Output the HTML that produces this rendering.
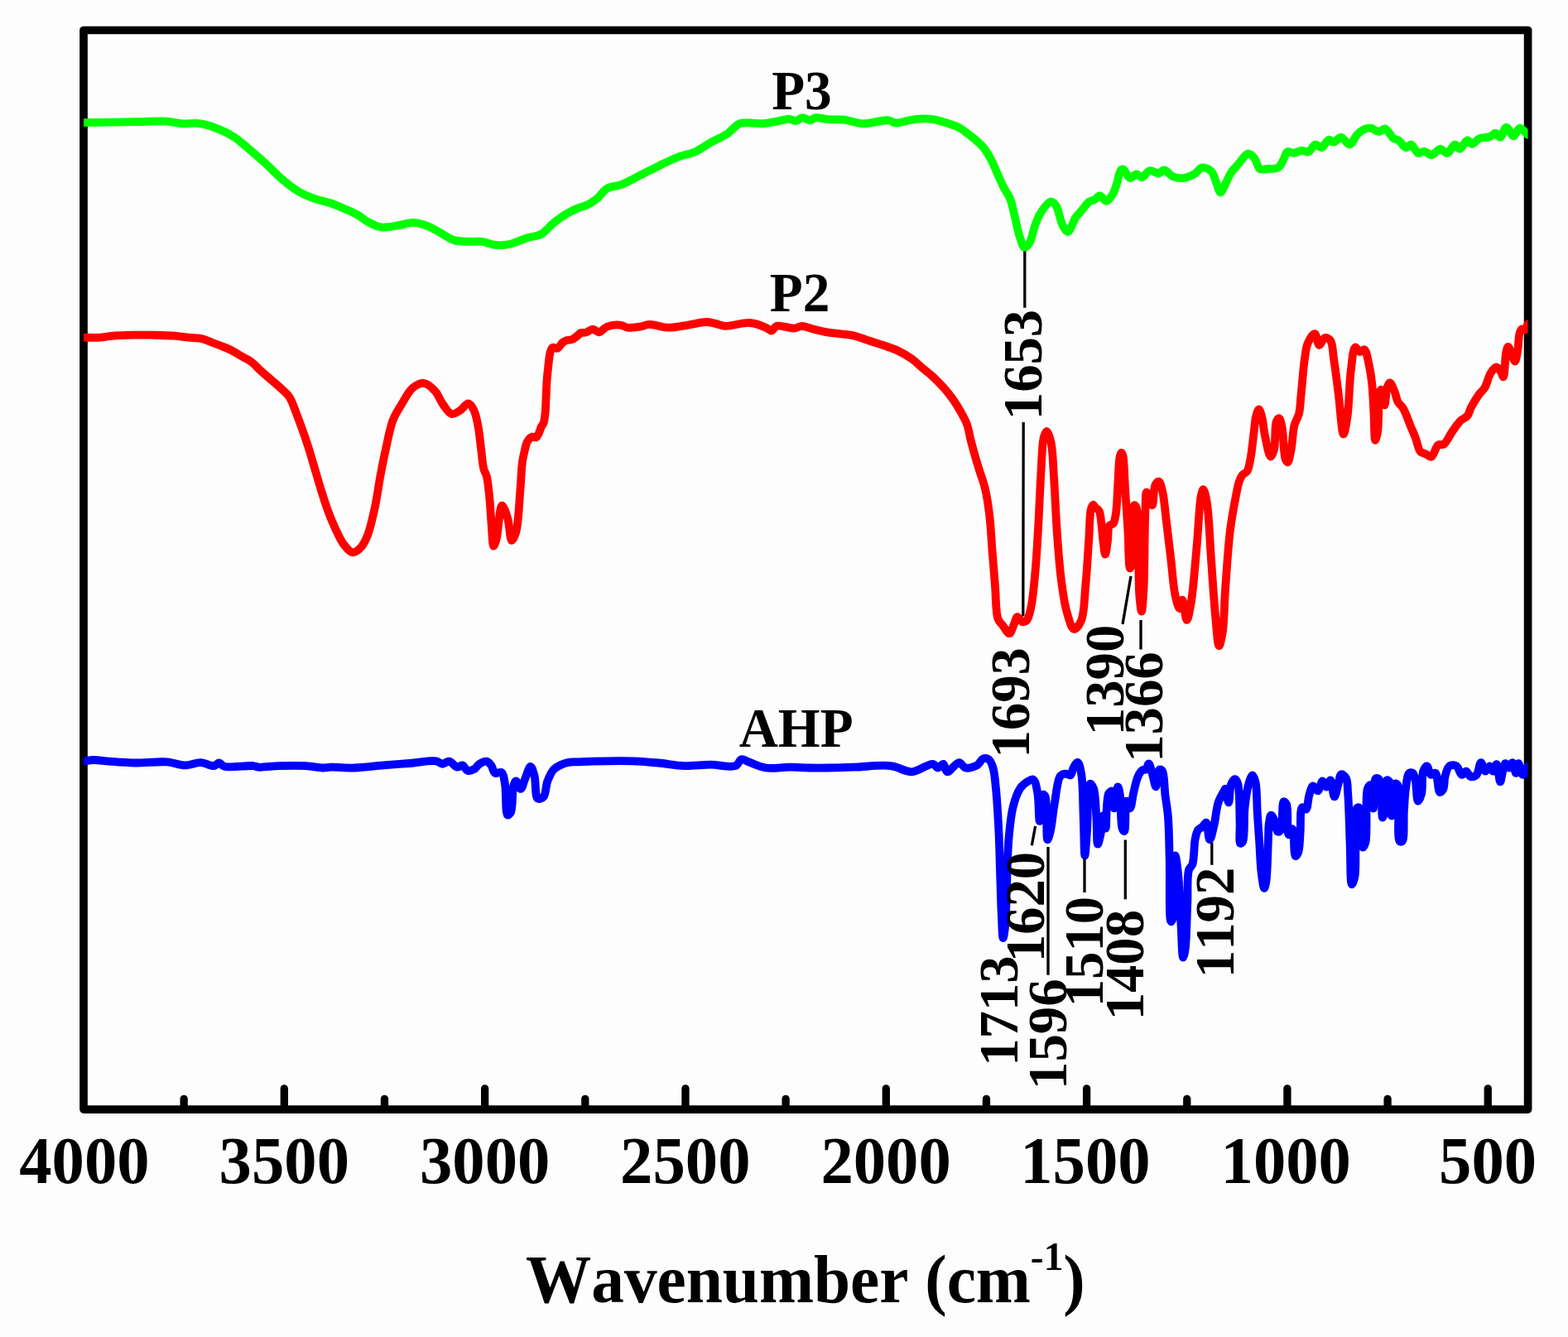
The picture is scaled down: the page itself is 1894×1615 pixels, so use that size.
<!DOCTYPE html>
<html><head><meta charset="utf-8"><title>FTIR spectra</title>
<style>html,body{margin:0;padding:0;background:#fdfdfd;width:1894px;height:1615px;overflow:hidden}</style>
</head><body>
<svg width="1894" height="1615" viewBox="0 0 1894 1615" style="display:block">
<rect x="0" y="0" width="1894" height="1615" fill="#fdfdfd"/>
<rect x="101" y="36.5" width="1744.6" height="1303.6" fill="none" stroke="#000" stroke-width="9.7" stroke-linejoin="round"/>
<path d="M343.32,1340 V1314.8 M585.64,1340 V1314.8 M827.96,1340 V1314.8 M1070.28,1340 V1314.8 M1312.60,1340 V1314.8 M1554.92,1340 V1314.8 M1797.24,1340 V1314.8 M222.16,1340 V1327.3 M464.48,1340 V1327.3 M706.80,1340 V1327.3 M949.12,1340 V1327.3 M1191.44,1340 V1327.3 M1433.76,1340 V1327.3 M1676.08,1340 V1327.3" stroke="#000" stroke-width="9.3" stroke-linecap="round" fill="none"/>
<text transform="translate(23.23,1429.21) scale(0.972,1)" font-size="81" style="font-family:'Liberation Serif','Times New Roman',serif;font-weight:bold;font-kerning:none">4000</text>
<text transform="translate(264.61,1429.21) scale(0.972,1)" font-size="81" style="font-family:'Liberation Serif','Times New Roman',serif;font-weight:bold;font-kerning:none">3500</text>
<text transform="translate(506.93,1429.21) scale(0.972,1)" font-size="81" style="font-family:'Liberation Serif','Times New Roman',serif;font-weight:bold;font-kerning:none">3000</text>
<text transform="translate(749.07,1429.21) scale(0.972,1)" font-size="81" style="font-family:'Liberation Serif','Times New Roman',serif;font-weight:bold;font-kerning:none">2500</text>
<text transform="translate(991.39,1429.21) scale(0.972,1)" font-size="81" style="font-family:'Liberation Serif','Times New Roman',serif;font-weight:bold;font-kerning:none">2000</text>
<text transform="translate(1232.21,1429.21) scale(0.972,1)" font-size="81" style="font-family:'Liberation Serif','Times New Roman',serif;font-weight:bold;font-kerning:none">1500</text>
<text transform="translate(1474.53,1429.21) scale(0.972,1)" font-size="81" style="font-family:'Liberation Serif','Times New Roman',serif;font-weight:bold;font-kerning:none">1000</text>
<text transform="translate(1738.11,1429.21) scale(0.972,1)" font-size="81" style="font-family:'Liberation Serif','Times New Roman',serif;font-weight:bold;font-kerning:none">500</text>
<defs><clipPath id="pc"><rect x="101" y="0" width="1744.6" height="1615"/></clipPath></defs>
<g clip-path="url(#pc)">
<path d="M98.0,148.2 C98.0,148.2 99.5,148.2 101.0,148.2 C105.9,148.2 121.4,147.9 131.7,147.7 C142.2,147.5 152.4,147.4 163.4,147.2 C175.5,147.0 190.9,145.9 201.4,146.6 C208.8,147.1 213.8,148.8 220.4,149.3 C227.5,149.8 235.4,148.2 242.6,149.3 C249.7,150.4 256.6,153.0 263.2,155.6 C269.8,158.2 276.0,161.1 282.2,165.1 C289.2,169.6 296.1,176.2 302.8,181.8 C309.3,187.3 315.5,192.7 321.8,198.4 C328.2,204.3 334.3,211.1 340.8,216.6 C347.0,221.9 353.2,227.0 359.8,230.9 C365.9,234.6 372.2,237.2 378.8,239.6 C385.6,242.1 393.9,243.4 400.0,245.5 C404.8,247.2 408.1,248.7 412.7,250.7 C418.4,253.2 425.9,256.2 431.7,259.4 C436.9,262.3 441.0,266.4 445.9,268.9 C450.5,271.3 455.7,273.6 460.2,274.4 C464.1,275.0 467.4,274.4 471.3,274.0 C475.8,273.5 480.8,272.1 485.5,271.3 C490.3,270.4 495.0,268.8 499.8,268.9 C504.6,269.0 509.3,270.4 514.1,272.1 C519.3,274.0 524.4,277.1 529.9,280.0 C536.0,283.2 542.5,288.4 548.9,290.3 C554.7,292.0 560.6,291.6 566.3,291.9 C571.7,292.1 576.9,291.3 582.2,291.9 C587.5,292.5 592.6,295.3 598.0,295.8 C603.6,296.4 609.3,296.2 615.4,295.0 C622.4,293.6 630.8,289.1 637.6,287.1 C643.3,285.4 648.4,285.8 653.4,283.2 C659.1,280.2 663.9,273.2 669.3,268.9 C674.5,264.8 679.8,260.9 685.1,257.8 C690.0,254.9 695.8,252.3 700.0,250.7 C703.0,249.5 705.0,249.6 707.9,248.3 C711.7,246.6 716.5,243.6 720.6,240.4 C725.0,236.9 728.3,230.6 733.3,227.7 C738.3,224.8 744.7,225.3 750.7,223.0 C757.8,220.3 765.5,215.6 772.9,211.9 C780.3,208.2 787.5,204.4 795.0,200.8 C802.8,197.0 811.1,192.7 818.8,189.7 C825.8,187.0 832.8,186.3 839.4,183.4 C846.0,180.5 851.9,175.9 858.4,172.3 C865.1,168.5 872.9,165.3 879.0,161.2 C884.4,157.5 888.4,151.3 893.3,149.3 C897.4,147.7 901.5,148.5 905.9,148.5 C910.9,148.5 916.3,149.6 921.8,149.3 C927.9,148.9 935.1,147.1 940.8,146.1 C945.4,145.3 949.7,143.6 953.4,143.8 C956.4,143.9 958.8,146.3 961.4,146.1 C964.1,145.9 966.5,142.4 969.3,142.2 C972.3,142.0 976.0,145.5 978.8,145.3 C981.2,145.1 982.5,142.6 985.1,142.2 C988.9,141.6 994.7,143.8 1000.0,144.2 C1005.9,144.7 1012.3,143.9 1019.0,144.6 C1026.5,145.4 1034.4,149.0 1042.8,149.3 C1052.2,149.6 1065.7,144.6 1072.9,145.3 C1077.0,145.7 1079.0,148.3 1082.4,148.5 C1086.3,148.8 1090.8,146.9 1095.0,146.1 C1099.2,145.3 1103.1,144.2 1107.7,143.8 C1113.0,143.3 1119.8,143.2 1125.1,143.8 C1129.7,144.4 1133.1,145.5 1137.8,146.9 C1143.9,148.7 1152.4,151.0 1158.4,154.1 C1163.8,156.9 1168.0,160.7 1172.7,164.4 C1177.5,168.3 1182.9,172.4 1186.9,177.0 C1190.7,181.4 1193.6,186.2 1196.4,191.3 C1199.4,196.7 1201.7,202.9 1204.3,208.7 C1207.0,214.5 1209.5,220.6 1212.3,226.1 C1214.9,231.2 1218.1,235.3 1220.2,240.4 C1222.4,245.8 1223.3,251.4 1224.9,257.8 C1226.9,265.8 1228.8,277.2 1231.3,284.7 C1233.2,290.3 1235.1,298.5 1237.6,299.0 C1239.5,299.4 1242.1,295.7 1243.9,292.7 C1246.7,288.0 1248.0,278.3 1250.3,272.1 C1252.3,266.8 1253.7,262.3 1256.6,257.8 C1259.8,252.8 1265.7,244.0 1269.3,243.6 C1271.6,243.4 1273.7,245.7 1275.6,248.3 C1278.9,252.9 1280.4,266.5 1283.5,272.1 C1285.5,275.7 1287.7,280.2 1289.9,280.0 C1293.0,279.7 1296.2,267.2 1299.4,262.6 C1301.7,259.3 1303.8,257.5 1306.3,254.6 C1309.2,251.2 1312.7,245.8 1315.8,243.6 C1317.9,242.1 1320.2,242.3 1322.2,241.2 C1324.4,240.0 1326.3,236.4 1328.5,236.4 C1331.0,236.4 1333.8,243.0 1336.4,242.8 C1339.2,242.6 1342.3,237.4 1344.4,234.0 C1346.6,230.4 1347.6,225.9 1349.1,221.4 C1350.8,216.4 1351.8,207.5 1353.9,205.5 C1354.8,204.6 1355.9,204.3 1357.0,204.7 C1359.3,205.5 1362.0,214.4 1364.9,215.0 C1367.4,215.5 1370.4,210.3 1372.9,210.3 C1375.1,210.3 1376.9,214.5 1379.2,214.3 C1382.1,214.1 1385.2,207.0 1388.7,206.3 C1392.1,205.6 1396.7,209.9 1399.8,209.5 C1402.3,209.1 1403.7,205.4 1406.1,205.5 C1409.3,205.6 1413.2,211.9 1417.2,213.5 C1421.1,215.0 1425.7,215.5 1429.9,215.0 C1434.2,214.5 1438.8,212.5 1442.6,210.3 C1446.2,208.2 1448.6,202.9 1452.1,202.4 C1455.5,201.9 1460.4,204.3 1463.2,207.1 C1466.4,210.3 1467.6,216.9 1469.5,221.4 C1471.2,225.3 1472.4,232.4 1474.2,232.5 C1476.1,232.6 1478.5,225.3 1480.6,221.4 C1482.8,217.3 1484.3,212.6 1486.9,208.7 C1489.5,204.7 1493.1,201.3 1496.4,197.6 C1499.9,193.7 1504.0,186.1 1507.5,185.7 C1510.2,185.4 1513.2,188.7 1515.4,191.3 C1518.1,194.5 1518.7,202.1 1521.8,204.0 C1524.3,205.6 1527.9,204.2 1531.3,204.0 C1535.2,203.8 1540.7,204.4 1543.9,202.4 C1546.9,200.5 1548.4,196.1 1550.3,192.9 C1552.1,189.8 1552.6,184.6 1555.0,183.4 C1557.1,182.4 1560.2,185.1 1563.0,184.9 C1566.1,184.7 1569.5,182.0 1572.5,181.8 C1575.2,181.6 1577.9,184.2 1580.4,183.4 C1583.5,182.5 1586.0,175.2 1588.9,174.7 C1591.3,174.3 1593.9,178.8 1596.3,178.4 C1599.3,177.8 1602.3,169.3 1605.1,168.8 C1607.1,168.4 1608.9,171.8 1611.0,171.7 C1613.7,171.5 1616.9,165.6 1619.9,165.8 C1623.3,166.0 1627.1,175.1 1630.3,174.7 C1633.6,174.3 1636.3,165.9 1639.1,162.9 C1641.1,160.7 1642.6,159.0 1645.0,157.7 C1647.8,156.1 1652.0,154.5 1655.4,154.7 C1658.9,154.9 1662.6,159.3 1665.7,159.2 C1668.4,159.1 1670.6,155.0 1673.1,155.5 C1676.5,156.2 1680.3,165.1 1683.5,167.3 C1685.6,168.7 1687.4,168.2 1689.4,169.5 C1692.3,171.3 1695.5,178.1 1698.3,178.4 C1700.4,178.6 1702.2,174.4 1704.2,174.7 C1707.0,175.1 1710.0,184.1 1713.1,185.0 C1715.4,185.7 1717.9,182.6 1720.4,182.8 C1723.3,183.1 1726.3,187.5 1729.3,187.3 C1732.7,187.0 1736.3,180.1 1739.7,179.9 C1742.7,179.8 1745.7,185.5 1748.5,185.0 C1751.7,184.5 1754.6,174.9 1757.4,174.7 C1759.5,174.6 1761.2,180.0 1763.3,179.9 C1766.1,179.7 1769.4,169.8 1772.2,169.5 C1774.3,169.3 1775.9,174.0 1778.1,174.0 C1780.8,174.0 1783.5,168.8 1787.0,167.3 C1790.8,165.7 1796.9,166.6 1800.3,165.1 C1802.8,164.0 1804.3,160.6 1806.2,160.7 C1808.2,160.8 1810.2,166.1 1812.1,165.8 C1814.7,165.4 1816.8,154.2 1819.5,154.0 C1822.2,153.8 1825.6,164.5 1828.4,164.4 C1831.0,164.3 1833.0,155.0 1835.8,154.7 C1838.7,154.4 1843.1,162.0 1845.5,162.9 C1846.7,163.3 1848.5,162.9 1848.5,162.9" fill="none" stroke="#00ff00" stroke-width="9.8" stroke-linejoin="round" stroke-linecap="butt"/>
<path d="M98.0,407.7 C98.0,407.7 99.6,407.7 101.0,407.7 C104.7,407.7 114.9,408.1 120.9,407.7 C126.0,407.4 129.5,406.4 134.8,405.9 C142.0,405.3 152.1,404.9 160.4,404.7 C168.3,404.5 175.6,404.6 183.6,404.7 C192.2,404.9 202.3,405.1 210.3,405.7 C216.8,406.2 222.0,407.1 227.8,407.7 C233.6,408.3 240.1,408.2 245.2,409.4 C249.5,410.5 253.1,412.6 256.8,414.0 C260.1,415.3 262.7,416.2 266.1,417.5 C270.3,419.2 275.6,421.1 280.0,423.3 C284.1,425.4 288.1,428.3 291.7,430.3 C294.7,432.0 297.4,433.1 300.0,434.7 C302.5,436.3 304.8,438.1 306.9,439.9 C308.8,441.6 310.1,443.2 312.1,445.1 C314.8,447.7 318.4,450.9 321.7,453.8 C325.3,456.9 329.4,460.3 332.9,463.3 C336.0,466.0 339.0,468.6 341.6,471.1 C343.8,473.2 345.9,475.0 347.7,477.2 C349.4,479.3 350.7,481.6 352.0,484.1 C353.4,486.8 354.2,489.6 355.5,492.8 C357.1,496.9 358.9,501.7 360.7,506.7 C362.9,512.5 365.5,519.7 367.6,525.7 C369.5,531.1 371.1,536.0 372.8,541.3 C374.6,546.9 376.0,551.8 378.0,558.6 C380.9,568.2 385.0,583.0 388.4,593.7 C391.3,602.9 393.8,610.9 396.9,619.1 C400.0,627.2 403.6,635.8 407.0,642.7 C409.8,648.4 412.2,653.7 415.5,657.9 C418.5,661.7 422.1,666.8 425.6,667.2 C428.9,667.6 432.9,664.3 435.8,661.3 C439.3,657.7 441.7,652.3 444.2,646.1 C447.6,637.5 450.1,625.3 452.6,614.0 C455.3,601.7 457.1,587.7 459.4,575.2 C461.6,563.5 463.7,552.6 466.2,541.4 C468.7,530.1 470.9,517.0 474.6,507.6 C477.4,500.3 480.9,495.2 484.7,489.0 C488.8,482.3 493.1,473.1 498.3,468.7 C502.4,465.3 507.4,462.4 511.8,462.8 C516.4,463.2 521.5,468.0 525.3,472.1 C529.5,476.6 531.8,484.1 535.4,489.0 C538.6,493.2 541.9,499.2 545.6,500.0 C548.8,500.7 552.5,497.8 555.7,495.8 C559.2,493.6 562.9,487.0 565.8,487.3 C568.4,487.6 570.8,492.1 572.6,495.8 C575.1,500.9 576.3,508.8 577.7,516.0 C579.2,523.9 579.9,532.9 581.0,541.4 C582.1,549.8 582.8,560.6 584.4,566.7 C585.4,570.4 586.8,571.5 587.8,575.2 C589.4,581.3 590.3,591.4 591.2,600.5 C592.3,610.9 592.8,623.9 593.7,634.3 C594.5,643.3 594.8,659.4 596.3,659.6 C597.2,659.7 598.5,655.1 599.6,651.2 C601.9,642.8 603.4,611.0 606.4,610.6 C608.3,610.4 611.3,619.9 613.1,625.8 C615.5,633.4 615.9,652.6 618.2,652.9 C619.7,653.1 621.9,647.6 623.3,642.7 C626.3,632.4 627.1,607.3 628.4,592.1 C629.5,579.7 629.7,567.3 630.9,558.4 C631.7,552.4 632.8,548.0 633.9,543.6 C634.8,539.9 635.2,536.4 636.8,533.7 C638.3,531.2 640.7,528.4 642.8,527.7 C644.4,527.1 646.4,528.8 647.7,528.2 C649.1,527.6 649.8,525.5 650.7,523.8 C651.8,521.6 652.6,518.1 653.7,515.8 C654.6,513.9 655.8,513.0 656.6,510.9 C657.7,507.9 658.1,503.5 658.6,499.0 C659.2,493.3 659.3,485.8 659.6,479.2 C659.9,472.6 660.1,466.0 660.6,459.4 C661.1,452.8 661.9,445.6 662.6,439.6 C663.2,434.6 663.5,429.3 664.6,425.7 C665.4,423.2 666.0,420.6 667.5,419.8 C669.0,419.0 671.7,421.5 673.5,420.8 C675.7,420.0 677.3,415.6 679.4,413.9 C681.2,412.5 683.3,411.6 685.3,410.9 C687.2,410.3 689.3,410.8 691.3,409.9 C693.9,408.8 697.6,405.4 699.2,404.0 C700.0,403.3 700.0,402.7 700.8,402.3 C702.3,401.5 705.9,402.1 708.4,401.4 C711.0,400.6 713.5,397.6 716.0,397.6 C718.5,397.6 721.0,401.6 723.6,401.4 C726.7,401.2 729.2,396.2 733.1,394.7 C737.8,392.9 745.7,392.2 750.2,392.8 C753.3,393.2 754.8,395.2 757.8,395.7 C762.0,396.3 768.4,395.4 773.1,394.7 C777.2,394.1 780.0,392.1 784.5,391.9 C790.8,391.7 799.7,395.6 807.3,395.7 C814.9,395.8 822.5,393.9 830.1,392.8 C837.7,391.7 846.6,389.0 852.9,389.0 C857.4,389.0 860.5,390.1 864.3,390.9 C868.1,391.7 871.0,393.5 875.7,393.8 C883.4,394.3 897.2,389.3 906.1,390.0 C913.2,390.6 920.5,393.7 925.1,395.7 C928.0,396.9 929.6,399.7 931.8,399.5 C934.1,399.3 935.3,394.7 938.4,393.8 C943.2,392.4 953.7,397.0 959.3,396.6 C963.1,396.3 965.4,393.8 968.8,393.8 C972.9,393.8 977.6,396.4 982.1,397.6 C986.8,398.8 991.6,400.0 996.5,400.9 C1001.5,401.8 1006.2,402.2 1011.6,402.9 C1017.9,403.8 1025.8,404.2 1032.2,405.7 C1038.0,407.1 1042.9,409.3 1048.6,411.2 C1054.8,413.2 1061.8,415.3 1067.9,417.4 C1073.6,419.4 1078.9,421.0 1084.3,423.5 C1089.9,426.2 1095.7,429.5 1100.8,433.1 C1105.7,436.6 1110.0,441.0 1114.5,444.8 C1118.7,448.4 1122.9,451.4 1126.9,455.1 C1131.1,458.9 1135.3,463.2 1139.2,467.5 C1143.1,471.9 1146.8,476.4 1150.2,481.2 C1153.7,486.0 1156.8,491.1 1159.8,496.3 C1162.8,501.6 1166.0,507.0 1168.1,512.8 C1170.2,518.6 1170.7,524.3 1172.5,531.2 C1174.8,540.3 1178.2,552.3 1181.2,562.4 C1184.0,571.9 1187.6,580.5 1189.9,590.1 C1192.3,600.1 1193.7,610.0 1195.1,621.3 C1196.7,634.5 1197.4,650.2 1198.5,664.6 C1199.7,679.1 1200.8,693.8 1202.0,708.0 C1203.1,721.6 1202.6,740.2 1205.5,747.8 C1206.9,751.4 1208.7,752.3 1210.7,754.8 C1213.2,758.0 1217.0,765.5 1219.3,765.2 C1221.5,765.0 1222.9,758.2 1224.5,754.8 C1226.1,751.5 1227.0,745.5 1228.9,745.2 C1230.6,744.9 1232.8,750.8 1234.9,751.3 C1236.6,751.7 1238.6,751.1 1240.1,749.6 C1242.6,747.1 1243.8,740.6 1245.3,734.0 C1247.7,723.2 1249.1,705.7 1250.5,690.6 C1252.0,674.1 1252.9,657.2 1254.0,638.6 C1255.3,617.2 1256.2,589.5 1257.5,569.3 C1258.5,553.7 1258.7,535.6 1260.9,527.7 C1261.9,524.3 1263.2,520.7 1264.4,520.8 C1266.1,520.9 1268.3,528.7 1269.6,534.7 C1271.9,545.0 1272.0,562.3 1273.1,578.0 C1274.4,596.5 1275.1,618.4 1276.5,638.6 C1277.9,658.8 1279.4,681.2 1281.7,699.3 C1283.6,714.0 1285.4,728.2 1288.6,739.2 C1291.0,747.4 1293.9,759.5 1297.3,760.0 C1299.9,760.4 1303.8,754.7 1306.0,749.6 C1309.9,740.7 1309.7,723.2 1311.2,708.0 C1313.0,689.8 1314.3,664.5 1315.5,647.6 C1316.3,635.4 1316.1,622.4 1317.6,616.0 C1318.3,613.0 1319.2,609.9 1320.3,609.7 C1321.2,609.6 1322.2,612.2 1323.4,613.4 C1324.7,614.7 1326.5,615.2 1327.6,617.1 C1329.4,620.2 1329.5,626.4 1330.3,631.8 C1331.2,638.2 1331.6,646.3 1332.4,652.9 C1333.2,658.8 1334.1,669.7 1335.0,669.7 C1335.9,669.7 1337.1,659.3 1337.9,653.8 C1338.8,647.8 1337.9,637.9 1340.1,634.8 C1341.2,633.2 1343.4,634.0 1344.6,632.6 C1346.5,630.3 1347.0,625.5 1347.9,620.3 C1349.3,611.9 1349.5,598.0 1350.2,586.9 C1351.0,575.7 1351.1,560.2 1352.4,553.4 C1353.0,550.3 1353.8,546.8 1354.6,546.8 C1355.2,546.8 1355.9,548.5 1356.4,550.5 C1358.0,556.5 1358.1,575.5 1359.0,589.4 C1360.1,605.5 1361.4,624.7 1362.4,641.4 C1363.4,657.0 1363.1,686.2 1365.0,686.5 C1365.9,686.6 1367.6,681.2 1368.5,676.1 C1370.7,663.7 1367.4,611.1 1370.2,610.2 C1370.9,610.0 1372.0,611.5 1372.8,613.6 C1376.6,624.2 1374.5,698.4 1376.3,719.4 C1377.1,728.4 1378.1,738.5 1378.9,738.5 C1379.9,738.5 1380.8,722.5 1381.5,710.7 C1382.7,689.8 1382.3,645.3 1383.2,624.0 C1383.7,611.6 1383.5,594.8 1385.0,594.6 C1385.8,594.5 1387.2,600.5 1388.4,603.2 C1389.5,605.7 1390.9,610.4 1391.9,610.2 C1393.6,609.9 1393.1,590.5 1395.4,585.9 C1396.5,583.6 1398.4,581.3 1399.7,581.6 C1401.5,582.0 1402.7,587.8 1404.0,592.8 C1406.3,601.9 1407.5,619.1 1409.2,632.7 C1411.0,646.9 1412.7,661.6 1414.4,676.1 C1416.1,690.5 1417.2,708.7 1419.6,719.4 C1421.1,726.0 1423.2,735.0 1424.8,735.0 C1426.1,735.0 1427.1,724.5 1428.3,724.6 C1430.0,724.7 1431.7,748.9 1433.5,748.9 C1435.2,748.9 1437.1,737.1 1438.7,728.1 C1441.5,711.8 1443.6,681.1 1445.7,658.7 C1447.6,637.8 1448.6,608.1 1450.9,598.0 C1451.7,594.5 1452.6,591.1 1453.5,591.1 C1454.8,591.2 1456.6,599.6 1457.8,606.7 C1460.4,621.5 1461.3,653.0 1463.0,676.1 C1464.7,699.2 1466.3,726.3 1468.2,745.4 C1469.5,759.0 1470.7,780.0 1472.5,780.1 C1473.8,780.2 1475.8,770.1 1476.9,762.8 C1478.8,750.5 1478.7,730.8 1480.0,712.5 C1481.6,690.5 1483.4,660.6 1486.0,640.0 C1487.9,624.7 1490.6,610.8 1492.7,600.0 C1494.1,592.7 1495.1,586.4 1496.8,581.6 C1498.0,578.3 1499.1,575.6 1500.9,573.5 C1502.4,571.7 1504.9,571.5 1506.3,569.4 C1508.5,566.2 1509.2,560.4 1510.4,554.4 C1512.1,545.9 1513.3,532.3 1514.5,523.0 C1515.5,515.5 1515.8,507.8 1517.2,502.6 C1518.1,499.2 1519.5,494.4 1520.6,494.4 C1521.7,494.4 1523.0,499.1 1524.0,502.6 C1525.7,508.5 1526.3,519.0 1528.1,527.1 C1529.9,535.3 1532.6,551.5 1534.9,551.7 C1536.3,551.8 1537.9,547.3 1539.0,543.5 C1541.0,536.1 1539.4,515.1 1541.7,509.4 C1542.6,507.2 1544.1,505.1 1545.1,505.3 C1546.6,505.6 1547.6,511.4 1548.6,516.2 C1550.5,525.0 1550.3,548.2 1552.6,554.4 C1553.4,556.6 1554.5,558.6 1555.4,558.5 C1556.9,558.2 1558.3,549.4 1559.5,543.5 C1561.2,535.3 1561.4,521.4 1563.5,513.5 C1565.0,508.0 1567.7,505.2 1569.0,499.9 C1570.7,493.0 1570.7,484.6 1571.7,475.4 C1573.0,463.5 1574.1,445.8 1575.8,434.5 C1577.0,426.5 1577.4,419.6 1579.9,414.1 C1581.9,409.6 1585.9,402.9 1588.1,403.2 C1590.4,403.5 1591.3,416.5 1593.5,416.8 C1595.4,417.1 1597.8,408.5 1600.3,407.9 C1602.4,407.4 1605.4,409.0 1607.1,411.3 C1610.1,415.4 1609.8,425.7 1611.2,434.5 C1613.0,446.2 1614.9,461.1 1616.7,475.4 C1618.7,491.0 1620.6,524.3 1622.8,524.4 C1624.3,524.5 1626.3,511.6 1627.6,502.6 C1629.7,488.6 1629.7,463.3 1631.7,448.1 C1633.2,437.0 1634.1,420.4 1637.1,419.5 C1638.6,419.0 1640.7,424.7 1642.6,425.0 C1644.3,425.3 1646.5,421.6 1648.0,422.2 C1650.7,423.3 1652.0,433.7 1653.5,440.0 C1655.1,447.0 1656.2,454.1 1657.1,462.4 C1658.3,472.8 1658.7,485.9 1659.4,497.6 C1660.1,509.1 1659.9,531.7 1661.2,531.8 C1661.9,531.9 1663.3,526.1 1664.1,521.2 C1665.7,511.2 1664.8,480.8 1666.5,474.1 C1667.0,472.2 1667.6,470.5 1668.2,470.6 C1669.5,470.8 1671.2,489.4 1672.4,489.4 C1673.6,489.4 1673.8,474.3 1675.3,469.4 C1676.2,466.4 1677.5,462.4 1678.8,462.4 C1680.4,462.4 1682.5,468.3 1684.1,471.8 C1685.9,475.9 1686.7,482.2 1688.8,485.9 C1690.4,488.8 1692.7,489.7 1694.7,492.9 C1697.9,498.1 1701.3,508.7 1704.1,515.3 C1706.3,520.5 1708.1,524.5 1710.0,529.4 C1712.0,534.7 1713.1,543.0 1715.9,545.9 C1717.6,547.6 1719.8,547.3 1721.8,548.2 C1724.1,549.2 1726.6,552.4 1728.8,551.8 C1731.9,550.9 1733.9,539.8 1737.1,537.6 C1739.2,536.1 1741.9,537.9 1744.1,536.5 C1747.5,534.3 1750.2,527.1 1753.5,522.4 C1756.9,517.6 1760.5,511.7 1764.1,508.2 C1766.8,505.6 1770.3,505.0 1772.4,502.4 C1774.7,499.6 1775.1,495.6 1777.1,491.8 C1779.6,487.1 1783.4,480.7 1786.5,476.5 C1788.9,473.2 1791.4,471.7 1793.5,468.2 C1796.3,463.6 1797.7,455.0 1800.6,450.6 C1802.7,447.4 1805.5,443.5 1807.6,443.5 C1809.3,443.5 1811.1,446.3 1812.4,448.2 C1813.9,450.2 1814.9,455.5 1815.9,455.3 C1817.8,455.0 1817.8,430.9 1819.4,424.7 C1820.1,421.9 1820.8,418.8 1821.8,418.8 C1823.1,418.8 1825.0,426.2 1826.5,429.4 C1827.7,432.0 1829.0,436.6 1830.0,436.5 C1831.4,436.3 1832.6,426.5 1833.5,421.2 C1834.4,415.5 1834.1,407.7 1835.3,403.5 C1836.0,400.9 1836.8,398.4 1838.2,397.6 C1839.4,396.9 1841.7,398.9 1842.9,398.2 C1844.4,397.3 1844.2,392.1 1845.5,391.2 C1846.3,390.6 1848.5,391.2 1848.5,391.2" fill="none" stroke="#ff0000" stroke-width="9.8" stroke-linejoin="round" stroke-linecap="butt"/>
<path d="M98.0,919.3 C98.0,919.3 99.7,919.4 101.0,919.3 C103.6,919.2 108.3,918.1 112.7,918.0 C118.3,917.9 124.6,919.1 131.7,919.6 C140.9,920.3 152.4,921.3 163.4,921.5 C175.5,921.7 190.5,919.6 201.4,920.4 C209.8,921.0 216.5,924.4 223.6,924.4 C230.2,924.4 236.6,921.0 242.6,921.2 C248.1,921.4 254.4,925.7 258.4,925.1 C261.1,924.7 262.6,921.4 264.7,921.5 C266.9,921.6 267.9,924.9 271.1,925.9 C277.9,927.9 299.0,924.3 305.9,925.1 C308.9,925.4 309.4,926.4 312.3,926.7 C317.9,927.2 328.7,925.4 337.6,925.1 C347.6,924.8 359.9,924.6 369.3,925.1 C376.9,925.5 384.2,927.4 389.9,927.5 C393.9,927.6 395.8,926.8 400.0,926.7 C407.1,926.5 418.5,927.8 428.5,927.5 C439.6,927.2 452.1,925.3 463.4,924.4 C474.2,923.5 484.5,922.8 495.0,922.0 C505.6,921.1 519.8,918.1 526.7,919.3 C530.3,919.9 531.9,922.8 534.6,922.8 C537.2,922.8 539.9,919.2 542.6,919.6 C545.7,920.0 549.1,926.3 552.1,926.7 C554.3,927.0 556.4,924.0 558.4,924.4 C560.7,924.9 562.2,930.0 564.7,930.7 C567.0,931.4 570.4,930.4 572.7,929.1 C575.2,927.8 576.5,924.4 579.0,922.8 C581.5,921.2 585.2,919.2 587.7,919.6 C589.9,920.0 591.7,922.3 593.3,924.4 C595.2,926.9 595.6,932.6 598.0,933.9 C600.0,935.0 604.0,931.8 605.9,933.1 C608.5,934.8 608.8,940.8 609.9,946.5 C611.7,955.9 610.2,983.2 613.1,984.5 C614.2,985.0 615.9,983.3 617.0,981.4 C619.7,976.5 618.4,956.1 620.2,949.7 C621.1,946.7 622.1,943.4 623.3,943.4 C624.8,943.3 627.1,953.0 628.9,952.9 C630.9,952.8 632.5,944.6 634.4,940.2 C636.4,935.6 638.9,925.9 640.8,925.9 C642.5,925.9 644.2,932.4 645.5,937.0 C647.5,944.1 646.0,962.5 649.5,964.7 C651.3,965.8 654.8,964.4 656.6,962.4 C659.6,959.2 659.1,949.2 661.4,943.4 C663.5,938.1 665.5,932.8 669.3,929.1 C673.3,925.3 679.8,922.6 685.1,921.2 C690.0,919.9 695.0,920.7 700.0,920.4 C705.2,920.1 709.1,919.8 715.8,919.6 C727.4,919.3 749.2,918.8 763.4,919.3 C775.0,919.7 784.5,920.5 795.0,921.5 C805.6,922.5 816.1,924.8 826.7,925.1 C837.3,925.4 848.0,923.6 858.4,923.6 C868.6,923.6 882.3,927.7 888.5,925.1 C892.2,923.6 892.9,917.9 895.6,917.2 C898.2,916.6 900.8,919.1 904.3,920.4 C909.7,922.3 917.4,926.3 924.9,927.5 C933.5,928.8 944.3,926.7 953.4,926.7 C961.7,926.7 969.4,927.4 977.2,927.5 C984.9,927.6 991.8,927.6 1000.0,927.5 C1009.7,927.4 1020.3,927.1 1031.7,926.7 C1045.2,926.3 1063.4,923.6 1076.0,925.1 C1085.7,926.3 1093.0,932.6 1101.4,932.3 C1109.9,931.9 1121.2,922.0 1126.7,922.8 C1129.7,923.2 1131.0,927.5 1133.1,927.5 C1135.2,927.5 1137.6,922.4 1139.4,922.8 C1141.4,923.3 1141.6,931.7 1144.1,932.3 C1147.3,933.0 1154.3,921.2 1158.4,921.2 C1161.4,921.2 1163.1,926.8 1166.3,927.5 C1170.2,928.4 1176.8,926.4 1180.4,924.3 C1183.5,922.5 1184.7,917.5 1187.3,916.5 C1189.4,915.7 1192.4,916.0 1194.3,917.3 C1196.7,919.0 1198.2,923.4 1199.5,927.7 C1201.5,934.0 1201.9,942.4 1202.9,952.0 C1204.4,966.1 1205.5,986.7 1206.4,1004.0 C1207.3,1021.3 1207.5,1038.7 1208.1,1056.0 C1208.7,1073.3 1209.2,1093.8 1209.9,1108.0 C1210.4,1117.9 1210.7,1133.1 1211.6,1133.1 C1212.3,1133.1 1213.5,1124.7 1214.2,1118.4 C1215.4,1107.5 1215.2,1089.4 1215.9,1073.3 C1216.7,1054.6 1216.9,1030.5 1218.5,1012.7 C1219.8,998.5 1220.9,985.4 1223.7,974.5 C1225.9,965.9 1228.8,957.3 1232.4,952.0 C1234.9,948.3 1238.2,946.0 1241.1,944.2 C1243.4,942.8 1246.2,940.7 1248.0,941.6 C1250.8,942.9 1251.9,950.9 1253.2,957.2 C1255.0,966.4 1254.6,991.9 1255.8,991.9 C1256.9,991.9 1257.8,960.6 1260.1,959.8 C1260.9,959.5 1262.0,960.7 1262.7,962.4 C1265.5,968.6 1263.3,1014.1 1265.3,1014.4 C1266.2,1014.5 1267.7,1008.5 1268.8,1004.0 C1270.8,995.9 1271.9,980.6 1274.0,969.3 C1276.0,958.4 1276.9,942.0 1280.9,937.3 C1282.8,935.1 1285.7,934.7 1287.9,934.7 C1289.8,934.7 1291.7,937.0 1293.1,936.4 C1294.9,935.6 1295.0,930.3 1296.5,927.7 C1297.9,925.2 1300.2,920.5 1301.7,920.8 C1303.6,921.1 1305.0,928.5 1306.1,934.7 C1308.2,946.4 1308.0,969.8 1308.7,986.7 C1309.4,1002.7 1309.5,1033.4 1310.4,1033.4 C1311.1,1033.4 1312.1,1015.4 1313.0,1004.0 C1314.2,988.1 1313.1,947.9 1316.5,946.8 C1317.7,946.4 1319.6,949.2 1320.8,952.0 C1323.4,958.3 1323.4,975.3 1324.3,986.7 C1325.1,997.8 1324.6,1019.4 1326.0,1019.6 C1326.9,1019.7 1328.5,1012.2 1329.5,1007.5 C1330.9,1001.2 1331.8,984.9 1332.9,984.9 C1333.8,984.9 1334.7,1000.5 1335.5,1000.5 C1336.8,1000.4 1335.8,964.9 1339.0,958.9 C1340.2,956.7 1342.2,955.1 1343.3,955.5 C1345.4,956.4 1344.8,976.3 1345.9,976.3 C1347.1,976.3 1348.9,950.4 1350.3,950.3 C1351.2,950.3 1352.2,956.1 1352.9,960.7 C1354.3,969.6 1353.3,994.6 1355.5,1000.5 C1356.2,1002.5 1357.4,1004.2 1358.1,1004.0 C1360.2,1003.4 1358.6,968.0 1360.7,967.6 C1361.8,967.4 1363.7,976.5 1365.0,976.3 C1366.8,976.1 1367.7,963.5 1369.3,957.2 C1370.9,950.8 1372.3,942.9 1374.5,938.1 C1376.0,934.8 1377.7,931.6 1379.7,930.3 C1381.1,929.4 1382.9,930.4 1384.1,929.5 C1385.7,928.3 1386.4,922.4 1387.5,922.5 C1389.0,922.6 1390.5,930.4 1391.9,934.7 C1393.4,939.6 1394.9,950.3 1396.2,950.3 C1397.7,950.2 1398.2,930.7 1400.5,929.5 C1401.5,929.0 1403.0,929.8 1404.0,931.2 C1406.7,935.0 1406.3,951.2 1407.5,960.7 C1408.6,969.6 1410.1,976.5 1410.9,986.7 C1412.1,1001.0 1412.2,1019.7 1412.7,1038.6 C1413.3,1061.2 1411.8,1112.6 1414.4,1113.2 C1415.1,1113.4 1416.3,1110.9 1417.0,1108.0 C1419.6,1097.7 1417.9,1033.5 1419.6,1033.4 C1420.5,1033.3 1422.1,1046.6 1423.1,1056.0 C1424.7,1071.3 1425.4,1098.5 1426.5,1116.6 C1427.4,1131.3 1427.7,1156.4 1429.1,1156.5 C1429.8,1156.6 1431.0,1151.0 1431.7,1146.1 C1433.3,1135.0 1433.5,1107.6 1434.3,1090.6 C1434.9,1076.2 1433.6,1058.5 1436.0,1050.8 C1437.1,1047.3 1439.2,1047.2 1440.4,1043.8 C1442.7,1037.3 1442.1,1020.2 1443.8,1012.7 C1444.8,1008.2 1445.5,1004.7 1447.3,1002.3 C1448.7,1000.5 1450.9,1000.2 1452.5,998.8 C1454.1,997.3 1455.6,993.3 1456.8,993.6 C1459.0,994.1 1459.5,1014.3 1461.2,1014.4 C1462.8,1014.5 1464.8,1003.6 1466.4,997.1 C1468.4,989.0 1469.1,976.8 1471.6,969.3 C1473.5,963.7 1477.0,958.3 1478.5,955.5 C1479.2,954.3 1479.5,952.8 1480.0,952.9 C1481.2,953.1 1483.0,969.5 1484.1,969.4 C1485.4,969.3 1485.0,952.0 1487.1,947.1 C1488.3,944.3 1490.4,941.1 1491.8,941.2 C1493.1,941.3 1494.4,944.0 1495.3,947.1 C1497.7,955.2 1497.1,980.9 1497.6,994.1 C1497.9,1003.6 1496.3,1017.9 1498.2,1018.8 C1498.9,1019.2 1500.4,1018.0 1501.2,1016.5 C1503.9,1011.5 1502.2,988.8 1503.5,976.5 C1504.6,965.9 1506.1,954.4 1508.2,947.1 C1509.5,942.6 1511.4,936.5 1512.9,936.5 C1514.2,936.5 1515.6,940.9 1516.5,944.7 C1518.4,952.6 1518.0,970.1 1518.8,982.4 C1519.6,994.3 1520.4,1005.9 1521.2,1017.6 C1522.0,1029.4 1522.3,1042.8 1523.5,1052.9 C1524.4,1060.5 1525.9,1072.8 1527.1,1072.9 C1527.9,1072.9 1528.8,1068.6 1529.4,1064.7 C1530.9,1055.5 1531.2,1030.6 1531.8,1017.6 C1532.2,1008.4 1532.0,1000.1 1532.9,994.1 C1533.5,990.2 1534.1,984.9 1535.3,984.7 C1536.2,984.5 1537.7,987.3 1538.8,989.4 C1540.6,992.9 1541.4,1003.9 1543.5,1004.7 C1544.6,1005.1 1546.1,1004.0 1547.1,1002.4 C1549.9,997.8 1548.1,969.1 1550.6,968.2 C1551.6,967.9 1553.2,969.7 1554.1,971.8 C1556.6,977.4 1554.0,1007.5 1556.5,1008.2 C1557.7,1008.5 1560.0,1000.9 1561.2,1001.2 C1563.7,1001.8 1562.4,1033.5 1564.7,1034.1 C1565.7,1034.4 1567.3,1031.7 1568.2,1029.4 C1570.0,1024.7 1569.9,1014.3 1570.6,1005.9 C1571.4,996.4 1570.0,977.0 1572.9,975.3 C1574.1,974.6 1576.4,978.2 1577.6,977.6 C1579.8,976.5 1579.7,966.2 1581.2,961.2 C1582.5,956.9 1583.9,949.8 1585.9,949.4 C1587.6,949.1 1590.0,955.6 1591.8,955.3 C1594.0,954.9 1595.6,943.6 1597.6,943.5 C1599.2,943.4 1600.9,950.7 1602.4,950.6 C1604.0,950.5 1605.7,942.2 1607.1,942.4 C1609.1,942.7 1610.1,962.3 1611.8,962.4 C1613.3,962.4 1615.1,951.9 1616.5,947.1 C1617.8,942.9 1618.1,935.9 1620.0,935.3 C1621.5,934.8 1624.5,937.5 1625.9,940.0 C1628.1,943.9 1627.5,950.8 1628.2,958.8 C1629.4,972.9 1629.8,998.7 1630.6,1017.6 C1631.4,1035.1 1630.8,1067.9 1632.9,1068.2 C1633.8,1068.4 1635.5,1063.6 1636.5,1058.8 C1639.2,1045.1 1634.9,982.6 1638.8,976.5 C1639.5,975.4 1640.5,975.0 1641.2,975.3 C1643.1,976.2 1643.9,987.1 1644.7,994.1 C1645.7,1002.8 1644.1,1023.1 1645.9,1023.5 C1646.7,1023.7 1648.5,1020.8 1649.4,1017.6 C1652.3,1007.7 1648.6,961.9 1651.8,952.9 C1652.8,950.2 1654.3,947.9 1655.3,948.2 C1657.4,948.8 1657.8,976.5 1658.8,976.5 C1659.9,976.5 1658.5,944.9 1661.2,941.2 C1662.0,940.1 1663.3,939.8 1664.2,940.1 C1665.4,940.5 1666.5,942.0 1667.4,944.4 C1669.9,951.2 1668.3,987.3 1670.0,987.6 C1670.7,987.7 1672.0,983.8 1672.7,980.3 C1674.3,972.6 1672.5,943.4 1675.3,942.2 C1676.3,941.8 1678.0,943.4 1679.0,945.4 C1681.8,951.1 1679.5,985.2 1681.1,985.5 C1681.7,985.6 1682.6,982.9 1683.2,980.3 C1684.6,974.0 1682.7,947.8 1685.3,946.5 C1686.2,946.1 1687.6,947.0 1688.5,948.6 C1692.3,955.3 1686.4,1012.2 1690.6,1016.2 C1691.5,1017.1 1692.9,1017.0 1693.8,1016.2 C1696.8,1013.4 1695.1,990.5 1695.9,979.2 C1696.6,969.7 1696.8,960.8 1698.0,952.8 C1699.0,945.9 1699.7,935.8 1702.2,933.8 C1703.4,932.8 1705.4,933.0 1706.5,933.8 C1708.1,934.9 1708.7,938.6 1709.6,942.2 C1711.1,948.3 1711.0,967.3 1712.8,967.6 C1713.9,967.8 1716.0,962.9 1717.0,959.1 C1718.8,952.7 1717.1,937.5 1719.1,931.7 C1720.2,928.6 1722.0,925.2 1723.4,925.3 C1725.2,925.4 1726.4,935.0 1728.6,935.9 C1730.1,936.5 1732.4,933.0 1733.9,933.8 C1736.9,935.4 1736.7,956.3 1739.2,957.0 C1740.4,957.4 1742.4,954.9 1743.4,952.8 C1745.0,949.5 1744.2,942.7 1745.5,938.0 C1746.7,933.5 1748.0,927.2 1750.8,925.3 C1753.0,923.8 1757.0,924.0 1759.3,925.3 C1762.1,926.9 1763.3,935.5 1765.6,935.9 C1767.3,936.2 1769.2,931.5 1770.9,931.7 C1772.8,931.9 1774.0,937.3 1776.2,938.0 C1778.3,938.6 1781.6,937.7 1783.5,935.9 C1786.3,933.3 1786.9,921.2 1788.8,921.1 C1790.5,921.0 1792.1,931.5 1794.1,931.7 C1795.7,931.9 1797.8,925.2 1799.4,925.3 C1800.9,925.4 1802.3,931.8 1803.6,931.7 C1805.1,931.6 1806.6,923.0 1807.8,923.2 C1809.6,923.4 1810.7,944.4 1812.1,944.4 C1813.2,944.4 1814.1,935.6 1815.2,931.7 C1816.2,928.3 1817.0,922.4 1818.4,922.2 C1819.6,922.0 1821.2,927.6 1822.6,927.5 C1824.0,927.4 1825.5,920.9 1826.8,921.1 C1828.5,921.3 1829.8,933.8 1831.1,933.8 C1832.3,933.8 1832.9,922.3 1834.2,922.2 C1835.6,922.1 1837.5,935.7 1839.5,935.9 C1841.3,936.1 1843.5,927.1 1845.5,926.0 C1846.5,925.4 1848.5,926.0 1848.5,926.0" fill="none" stroke="#0000ff" stroke-width="9.8" stroke-linejoin="round" stroke-linecap="butt"/>
</g>
<path d="M1237.8,303.4 L1237.8,371.7 M1236.2,510 L1235.8,744.4 M1366,696 L1356,754 M1378,748.9 L1378,784.4 M1250.6,997.9 L1246.3,1021.3 M1266,1023 L1266,1177.7 M1310,1037 L1310,1078 M1359.3,1014.4 L1359.3,1086.3 M1463.8,1017.9 L1463.8,1044.7" stroke="#000" stroke-width="3.3" fill="none"/>
<text transform="translate(932.13,132.33) scale(0.955,1)" font-size="68.4" style="font-family:'Liberation Serif','Times New Roman',serif;font-weight:bold;font-kerning:none">P3</text>
<text transform="translate(929.86,376.20) scale(0.955,1)" font-size="68.4" style="font-family:'Liberation Serif','Times New Roman',serif;font-weight:bold;font-kerning:none">P2</text>
<text transform="translate(892.71,901.80) scale(0.955,1)" font-size="68.4" style="font-family:'Liberation Serif','Times New Roman',serif;font-weight:bold;font-kerning:none">AHP</text>
<text transform="translate(1257.94,507.21) rotate(-90) scale(0.99,1)" font-size="67.4" style="font-family:'Liberation Serif','Times New Roman',serif;font-weight:bold;font-kerning:none">1653</text>
<text transform="translate(1243.34,915.56) rotate(-90) scale(0.99,1)" font-size="67.4" style="font-family:'Liberation Serif','Times New Roman',serif;font-weight:bold;font-kerning:none">1693</text>
<text transform="translate(1357.04,888.13) rotate(-90) scale(0.99,1)" font-size="67.4" style="font-family:'Liberation Serif','Times New Roman',serif;font-weight:bold;font-kerning:none">1390</text>
<text transform="translate(1404.04,920.82) rotate(-90) scale(0.99,1)" font-size="67.4" style="font-family:'Liberation Serif','Times New Roman',serif;font-weight:bold;font-kerning:none">1366</text>
<text transform="translate(1229.34,1287.81) rotate(-90) scale(0.99,1)" font-size="67.4" style="font-family:'Liberation Serif','Times New Roman',serif;font-weight:bold;font-kerning:none">1713</text>
<text transform="translate(1261.24,1162.23) rotate(-90) scale(0.99,1)" font-size="67.4" style="font-family:'Liberation Serif','Times New Roman',serif;font-weight:bold;font-kerning:none">1620</text>
<text transform="translate(1287.84,1315.92) rotate(-90) scale(0.99,1)" font-size="67.4" style="font-family:'Liberation Serif','Times New Roman',serif;font-weight:bold;font-kerning:none">1596</text>
<text transform="translate(1332.14,1216.28) rotate(-90) scale(0.99,1)" font-size="67.4" style="font-family:'Liberation Serif','Times New Roman',serif;font-weight:bold;font-kerning:none">1510</text>
<text transform="translate(1380.54,1232.34) rotate(-90) scale(0.99,1)" font-size="67.4" style="font-family:'Liberation Serif','Times New Roman',serif;font-weight:bold;font-kerning:none">1408</text>
<text transform="translate(1489.94,1181.16) rotate(-90) scale(0.99,1)" font-size="67.4" style="font-family:'Liberation Serif','Times New Roman',serif;font-weight:bold;font-kerning:none">1192</text>
<text transform="translate(635,1573) scale(0.967,1)" x="0" y="0" font-size="82" style="font-family:'Liberation Serif','Times New Roman',serif;font-weight:bold;font-kerning:none">Wavenumber (cm<tspan font-size="49" dy="-38.9">-1</tspan><tspan dy="38.9">)</tspan></text>
</svg>
</body></html>
